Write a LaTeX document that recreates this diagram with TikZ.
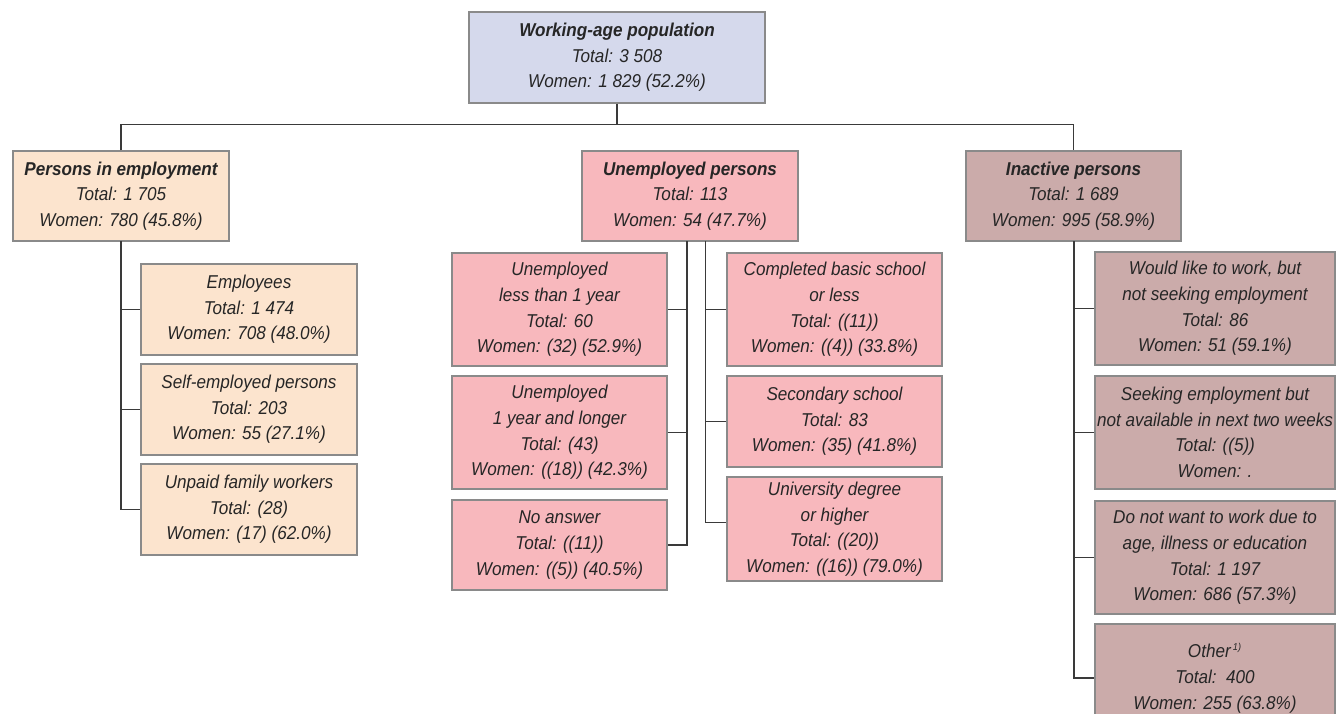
\documentclass[tikz,border=0pt]{standalone}
\usepackage{fontspec}
\setmainfont{Liberation Sans}[FakeStretch=0.92]
\usetikzlibrary{calc}
\definecolor{topfill}{HTML}{D5D9EC}
\definecolor{empfill}{HTML}{FCE4CE}
\definecolor{unfill}{HTML}{F8B8BD}
\definecolor{inafill}{HTML}{CBABAA}
\definecolor{boxline}{HTML}{8A8A8A}
\definecolor{conline}{HTML}{3A3A3A}
\tikzset{
  box/.style={rectangle, draw=boxline, line width=0.6pt, align=center, inner sep=0pt,
    font=\itshape\fontsize{9.3}{12.8}\selectfont, text=black!85},
  topbox/.style={box, fill=topfill},
  empbox/.style={box, fill=empfill},
  unbox/.style={box, fill=unfill},
  inabox/.style={box, fill=inafill},
  conn/.style={draw=conline, line width=0.7pt}
}
\begin{document}
\begin{tikzpicture}[x=0.5pt, y=-0.5pt]
\clip (0,0) rectangle (1336,713);
\fill[white] (0,0) rectangle (1336,713);
% top
\node[topbox, minimum width=148pt, minimum height=45.5pt] (top) at (617,57.5)
  {\textbf{Working-age population}\\Total: 3 508\\Women: 1 829 (52.2\%)};
% level 1
\node[empbox, minimum width=108pt, minimum height=45pt] (emp) at (121,196)
  {\textbf{Persons in employment}\\Total: 1 705\\Women: 780 (45.8\%)};
\node[unbox, minimum width=108pt, minimum height=45pt] (un) at (690,196)
  {\textbf{Unemployed persons}\\Total: 113\\Women: 54 (47.7\%)};
\node[inabox, minimum width=107.5pt, minimum height=45pt] (ina) at (1073.5,196)
  {\textbf{Inactive persons}\\Total: 1 689\\Women: 995 (58.9\%)};
% employment children
\node[empbox, minimum width=108pt, minimum height=45.5pt] (ee) at (249,309.5)
  {Employees\\Total: 1 474\\Women: 708 (48.0\%)};
\node[empbox, minimum width=108pt, minimum height=45.5pt] (se) at (249,409.5)
  {Self-employed persons\\Total: 203\\Women: 55 (27.1\%)};
\node[empbox, minimum width=108pt, minimum height=45.5pt] (uf) at (249,509.5)
  {Unpaid family workers\\Total: (28)\\Women: (17) (62.0\%)};
% unemployed children left
\node[unbox, minimum width=107.5pt, minimum height=56.5pt] (ua) at (559.5,309.5)
  {Unemployed\\less than 1 year\\Total: 60\\Women: (32) (52.9\%)};
\node[unbox, minimum width=107.5pt, minimum height=56.5pt] (ub) at (559.5,432.5)
  {Unemployed\\1 year and longer\\Total: (43)\\Women: ((18)) (42.3\%)};
\node[unbox, minimum width=107.5pt, minimum height=45pt] (uc) at (559.5,545)
  {No answer\\Total: ((11))\\Women: ((5)) (40.5\%)};
% unemployed children right
\node[unbox, minimum width=107.5pt, minimum height=56.5pt] (ud) at (834.5,309.5)
  {Completed basic school\\or less\\Total: ((11))\\Women: ((4)) (33.8\%)};
\node[unbox, minimum width=107.5pt, minimum height=45.5pt] (ue) at (834.5,421.5)
  {Secondary school\\Total: 83\\Women: (35) (41.8\%)};
\node[unbox, minimum width=107.5pt, minimum height=52pt] (uf2) at (834.5,529)
  {University degree\\or higher\\Total: ((20))\\Women: ((16)) (79.0\%)};
% inactive children
\node[inabox, minimum width=120pt, minimum height=56.5pt] (ig) at (1215,308.5)
  {Would like to work, but\\not seeking employment\\Total: 86\\Women: 51 (59.1\%)};
\node[inabox, minimum width=120pt, minimum height=56.5pt] (ih) at (1215,432.5)
  {Seeking employment but\\not available in next two weeks\\Total: ((5))\\Women: .};
\node[inabox, minimum width=120pt, minimum height=56.5pt] (ii) at (1215,557.5)
  {Do not want to work due to\\age, illness or education\\Total: 1 197\\Women: 686 (57.3\%)};
\node[inabox, minimum width=120pt, minimum height=54pt] (ij) at (1215,678)
  {Other\textsuperscript{\,\fontsize{5}{5}\selectfont 1)}\\Total:\ \ 400\\Women: 255 (63.8\%)};
% connectors: top level
\coordinate (bus) at (617,124.3);
\draw[conn] (top.south) -- (bus);
\draw[conn] (emp.north) |- (bus) -| (ina.north);
\draw[conn] ($(un.north)+(7.7,0)$) -- ($(un.north)+(7.7,0)$ |- bus);
% employment
\coordinate (ev) at (121,241);
\draw[conn] (ev) |- (uf.west);
\draw[conn] (ee.west) -- (ee.west -| ev);
\draw[conn] (se.west) -- (se.west -| ev);
% unemployed left
\coordinate (ulv) at (687,241);
\draw[conn] (ulv) |- (uc.east);
\draw[conn] (ua.east) -- (ua.east -| ulv);
\draw[conn] (ub.east) -- (ub.east -| ulv);
% unemployed right
\coordinate (urv) at (705.3,241);
\draw[conn] (urv) |- ($(uf2.west)+(0,-6.7)$);
\draw[conn] (ud.west) -- (ud.west -| urv);
\draw[conn] (ue.west) -- (ue.west -| urv);
% inactive
\coordinate (iv) at (1074,241);
\draw[conn] (iv) |- (ij.west);
\draw[conn] (ig.west) -- (ig.west -| iv);
\draw[conn] (ih.west) -- (ih.west -| iv);
\draw[conn] (ii.west) -- (ii.west -| iv);
\end{tikzpicture}
\end{document}
